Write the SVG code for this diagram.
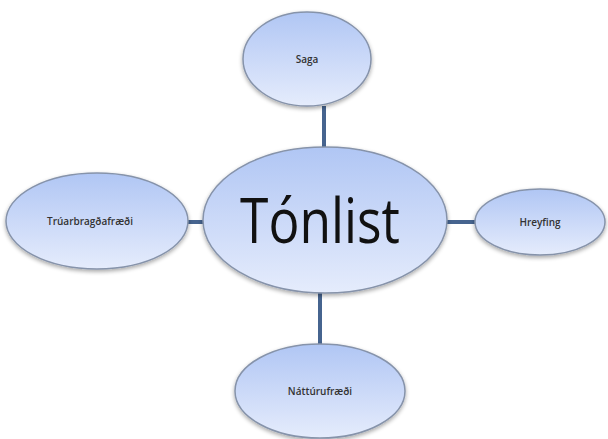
<svg xmlns="http://www.w3.org/2000/svg" width="608" height="439" viewBox="0 0 608 439">
<defs>
<linearGradient id="g" x1="0" y1="0" x2="0" y2="1">
<stop offset="0" stop-color="#b0c6f4"/>
<stop offset="0.5" stop-color="#cbd9f8"/>
<stop offset="1" stop-color="#e5ecfc"/>
</linearGradient>
<filter id="sh" x="-10%" y="-10%" width="120%" height="130%">
<feGaussianBlur in="SourceAlpha" stdDeviation="2"/>
<feOffset dx="0" dy="2" result="b"/>
<feComponentTransfer><feFuncA type="linear" slope="0.35"/></feComponentTransfer>
<feMerge><feMergeNode/><feMergeNode in="SourceGraphic"/></feMerge>
</filter>
</defs>
<style>
.n{fill:url(#g);stroke:#8693aa;stroke-width:1.5;filter:url(#sh)}
.c{stroke:#46648f;stroke-width:4;fill:none}
.t{font-family:"Open Sans","Liberation Sans",Arial,sans-serif;fill:#333333;text-anchor:middle}
.s{font-size:10px;font-weight:600}
.b{font-family:"Open Sans","Liberation Sans",Arial,sans-serif;fill:#111111;text-anchor:middle}
</style>
<rect width="608" height="439" fill="#ffffff"/>
<g id="connectors">
<line class="c" x1="324" y1="106" x2="324" y2="149"/>
<line class="c" x1="188" y1="222" x2="205" y2="222"/>
<line class="c" x1="446" y1="222" x2="476" y2="222"/>
<line class="c" x1="320" y1="291" x2="320" y2="345"/>
</g>
<g id="saga">
<ellipse class="n" cx="307" cy="59" rx="64" ry="47"/>
<text class="t s" x="307" y="63">Saga</text>
</g>
<g id="tonlist">
<ellipse class="n" cx="325" cy="220" rx="122" ry="73"/>
<text class="b" x="320" y="243" font-size="62" textLength="160" lengthAdjust="spacingAndGlyphs">Tónlist</text>
</g>
<g id="truarbragdafraedi">
<ellipse class="n" cx="97" cy="221" rx="91" ry="48"/>
<text class="t s" x="90" y="225">Trúarbragðafræði</text>
</g>
<g id="hreyfing">
<ellipse class="n" cx="540" cy="222" rx="65" ry="33"/>
<text class="t s" x="540" y="226">Hreyfing</text>
</g>
<g id="natturufraedi">
<ellipse class="n" cx="320" cy="391" rx="85" ry="47"/>
<text class="t s" x="320" y="395">Náttúrufræði</text>
</g>
</svg>
